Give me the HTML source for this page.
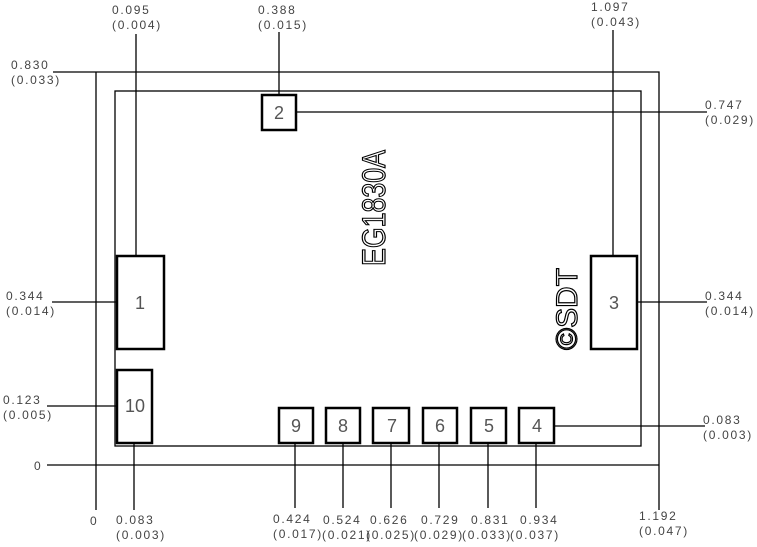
<!DOCTYPE html><html><head><style>body{margin:0;background:#fff}svg{display:block}text{font-family:"Liberation Sans",sans-serif;font-size:12px;fill:#444;letter-spacing:1.7px}</style></head><body>
<svg width="757" height="547" viewBox="0 0 757 547" xmlns="http://www.w3.org/2000/svg">
<g stroke="#000" stroke-width="1.3" fill="none">
<path d="M53 72H659V510M96 72V510M47 465H659"/>
<rect x="115" y="91" width="526" height="355"/>
<path d="M296 112H707M52 302H117M637 302H707M47 406H117M554 426H705"/>
<path d="M136 34V256M279 32V95M613 30V256M134 443V510M295 443V508M343 443V508M391 443V508M439 443V508M488 443V508M536 443V508"/>
</g>
<g stroke="#000" stroke-width="2.5" fill="#fff">
<rect x="262" y="95" width="34" height="35"/><rect x="117" y="256" width="47" height="93"/><rect x="117" y="370" width="35" height="73"/><rect x="591" y="256" width="46" height="93"/>
<rect x="279" y="408" width="34" height="35"/><rect x="326" y="408" width="34" height="35"/><rect x="373" y="408" width="36" height="35"/><rect x="423" y="408" width="34" height="35"/><rect x="471" y="408" width="35" height="35"/><rect x="519" y="408" width="35" height="35"/>
</g>
<g text-anchor="middle">
<text x="279" y="119" style="font-size:18px;fill:#555;letter-spacing:0">2</text><text x="140" y="309" style="font-size:18px;fill:#555;letter-spacing:0">1</text><text x="135" y="412" style="font-size:18px;fill:#555;letter-spacing:0">10</text><text x="614" y="309" style="font-size:18px;fill:#555;letter-spacing:0">3</text>
<text x="296" y="432" style="font-size:18px;fill:#555;letter-spacing:0">9</text><text x="343" y="432" style="font-size:18px;fill:#555;letter-spacing:0">8</text><text x="392" y="432" style="font-size:18px;fill:#555;letter-spacing:0">7</text><text x="440" y="432" style="font-size:18px;fill:#555;letter-spacing:0">6</text><text x="489" y="432" style="font-size:18px;fill:#555;letter-spacing:0">5</text><text x="537" y="432" style="font-size:18px;fill:#555;letter-spacing:0">4</text>
</g>
<text transform="translate(385,266) rotate(-90)" style="font-size:32px;fill:#fff;stroke:#000;stroke-width:1.2;letter-spacing:0" textLength="116" lengthAdjust="spacingAndGlyphs">EG1830A</text>
<text transform="translate(577,350) rotate(-90)" style="font-size:30px;fill:#fff;stroke:#000;stroke-width:1.2;letter-spacing:0" textLength="82" lengthAdjust="spacingAndGlyphs">©SDT</text>
<text x="112" y="14">0.095</text><text x="112" y="29">(0.004)</text>
<text x="258" y="14">0.388</text><text x="258" y="29">(0.015)</text>
<text x="591" y="11">1.097</text><text x="591" y="26">(0.043)</text>
<text x="11" y="69">0.830</text><text x="11" y="84">(0.033)</text>
<text x="705" y="109">0.747</text><text x="705" y="124">(0.029)</text>
<text x="6" y="300">0.344</text><text x="6" y="315">(0.014)</text>
<text x="705" y="300">0.344</text><text x="705" y="315">(0.014)</text>
<text x="3" y="404">0.123</text><text x="3" y="419">(0.005)</text>
<text x="703" y="424">0.083</text><text x="703" y="439">(0.003)</text>
<text x="34" y="470">0</text><text x="90" y="525">0</text>
<text x="116" y="524">0.083</text><text x="116" y="539">(0.003)</text>
<text x="273" y="523">0.424</text><text x="273" y="538">(0.017)</text>
<text x="323" y="524">0.524</text><text x="322" y="539">(0.021)</text>
<text x="370" y="524">0.626</text><text x="366" y="539">(0.025)</text>
<text x="421" y="524">0.729</text><text x="414" y="539">(0.029)</text>
<text x="471" y="524">0.831</text><text x="462" y="539">(0.033)</text>
<text x="520" y="524">0.934</text><text x="510" y="539">(0.037)</text>
<text x="639" y="520">1.192</text><text x="639" y="535">(0.047)</text>
</svg></body></html>
